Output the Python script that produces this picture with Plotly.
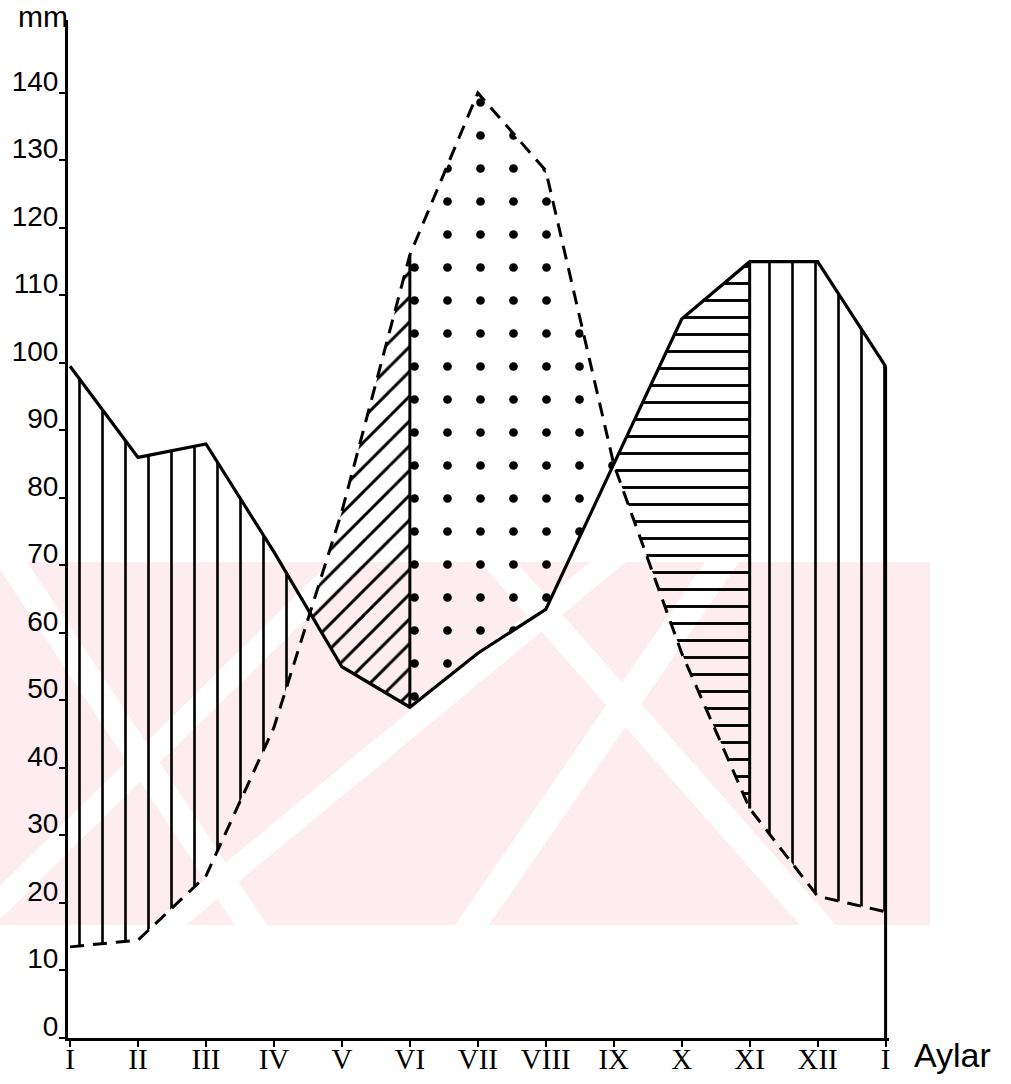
import numpy as np
import plotly.graph_objects as go

# ---------------- data ----------------
months = ["I", "II", "III", "IV", "V", "VI", "VII", "VIII", "IX", "X", "XI", "XII", "I"]
precip = [99.5, 86, 88, 72, 55, 49, 57, 63.5, 85, 106.5, 115, 115, 99.5]   # solid line
pet = [13.5, 14.5, 24, 46, 78, 116, 140, 128.5, 85, 57, 34, 21, 18.7]      # dashed line
y_ticks = list(range(0, 150, 10))

x = np.arange(len(months), dtype=float)
P = np.array(precip, dtype=float)
E = np.array(pet, dtype=float)


def crossing(i):
    """x position where the two curves cross between month i and i+1"""
    d0 = P[i] - E[i]
    d1 = P[i + 1] - E[i + 1]
    return i + d0 / (d0 - d1)


def band(x0, x1, upper, lower):
    xs = [x0] + [v for v in x if x0 < v < x1] + [x1]
    up = np.interp(xs, x, upper)
    lo = np.interp(xs, x, lower)
    px = list(xs) + list(xs[::-1]) + [xs[0]]
    py = list(up) + list(lo[::-1]) + [up[0]]
    return px, py


c1 = crossing(3)          # IV-V crossing
vi = 5.0                  # VI
ix = 8.0                  # IX (curves meet)
xi = 10.0                 # XI
end = 12.0

regions = [
    (0.0, c1, P, E, "|", 23, 0.115),   # surplus
    (c1, vi, E, P, "/", 17.5, 0.17),   # soil water utilisation
    (vi, ix, E, P, ".", 33, 0.055),    # deficit
    (ix, xi, P, E, "-", 17, 0.17),     # recharge
    (xi, end, P, E, "|", 23, 0.115),   # surplus
]

fig = go.Figure()

for (a, b, up, lo, shp, size, sol) in regions:
    px, py = band(a, b, up, lo)
    fig.add_trace(go.Scatter(
        x=px, y=py, mode="lines", fill="toself",
        line=dict(width=0, color="rgba(0,0,0,0)"),
        fillcolor="rgba(0,0,0,0)",
        fillpattern=dict(shape=shp, size=size, solidity=sol,
                         fgcolor="black", bgcolor="rgba(0,0,0,0)", fillmode="replace"),
        hoverinfo="skip", showlegend=False,
    ))

# vertical boundaries at VI, XI and the closing month
for xv, y0, y1 in [(vi, P[5], E[5]), (xi, E[10], P[10]), (end, 0, P[12])]:
    fig.add_trace(go.Scatter(x=[xv, xv], y=[y0, y1], mode="lines",
                             line=dict(color="black", width=3),
                             hoverinfo="skip", showlegend=False))

# dashed evapotranspiration line
fig.add_trace(go.Scatter(x=x, y=E, mode="lines",
                         line=dict(color="black", width=3, dash="14px,9px"),
                         hoverinfo="skip", showlegend=False))
# solid precipitation line
fig.add_trace(go.Scatter(x=x, y=P, mode="lines",
                         line=dict(color="black", width=3.2),
                         hoverinfo="skip", showlegend=False))

# ---------------- layout ----------------
W, H = 1011, 1084
ml, mr, mt, mb = 68, 122, 20, 46
pw = W - ml - mr
ph = H - mt - mb


def paper_x(px_):
    return (px_ - ml) / pw


def paper_y(py_):
    return (H - mb - py_) / ph


# faint pink watermark of the scan (band with white diagonal stripes)
PINK = "#fdecf0"
fig.add_shape(type="rect", xref="paper", yref="paper",
              x0=paper_x(0), x1=paper_x(930), y0=paper_y(925), y1=paper_y(562),
              fillcolor=PINK, line=dict(width=0), layer="below")


def stripe(xb, xt, w):
    """white parallelogram from bottom edge (x=xb) to top edge (x=xt) of the band"""
    pts = [(xb, 925), (xb + w, 925), (xt + w, 562), (xt, 562)]
    path = "M " + " L ".join(f"{paper_x(a):.4f},{paper_y(b):.4f}" for a, b in pts) + " Z"
    fig.add_shape(type="path", xref="paper", yref="paper", path=path,
                  fillcolor="white", line=dict(width=0), layer="below")


stripe(-40, 330, 34)
stripe(150, 590, 36)
stripe(455, 705, 34)
stripe(235, -5, 32)
stripe(800, 480, 36)

fig.update_layout(
    width=W, height=H,
    margin=dict(l=ml, r=mr, t=mt, b=mb, autoexpand=False),
    paper_bgcolor="white",
    plot_bgcolor="rgba(0,0,0,0)",
    showlegend=False,
    font=dict(family="Liberation Sans", color="black"),
    xaxis=dict(
        range=[-0.03, 12.05], automargin=False,
        tickmode="array", tickvals=list(x), ticktext=months,
        tickfont=dict(family="Liberation Serif", size=29, color="black"),
        ticks="outside", ticklen=6, tickwidth=2, tickcolor="black",
        ticklabelstandoff=-13,
        showline=True, linecolor="black", linewidth=3,
        showgrid=False, zeroline=False,
    ),
    yaxis=dict(
        range=[0, 150.8], automargin=False,
        tickmode="array", tickvals=y_ticks, ticktext=[str(v) for v in y_ticks],
        tickfont=dict(family="Liberation Sans", size=28, color="black"),
        ticks="outside", ticklen=6, tickwidth=2, tickcolor="black",
        ticklabelshift=-12, ticklabelstandoff=-5,
        showline=True, linecolor="black", linewidth=3,
        showgrid=False, zeroline=False,
    ),
    annotations=[
        dict(text="mm", xref="paper", yref="paper", x=paper_x(70), y=paper_y(17),
             xanchor="right", yanchor="middle", showarrow=False,
             font=dict(family="Liberation Sans", size=30, color="black")),
        dict(text="Aylar", xref="paper", yref="paper", x=paper_x(912), y=paper_y(1055),
             xanchor="left", yanchor="middle", showarrow=False,
             font=dict(family="Liberation Sans", size=34, color="black")),
    ],
)

fig.write_html("out.html", config={"displayModeBar": False},
               post_script="document.body.style.margin='0';document.body.style.overflow='hidden';")
